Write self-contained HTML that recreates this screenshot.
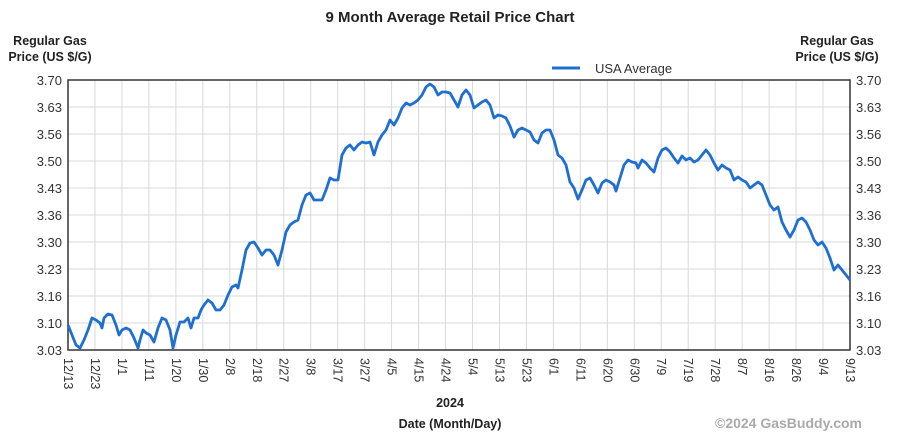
<!DOCTYPE html>
<html><head><meta charset="utf-8"><style>
body{margin:0;background:#fff;}
svg{display:block;font-family:"Liberation Sans",Arial,sans-serif;}
</style></head><body>
<svg width="900" height="437" xmlns="http://www.w3.org/2000/svg">
<text x="450" y="22" text-anchor="middle" font-size="15" font-weight="bold" fill="#222">9 Month Average Retail Price Chart</text>
<text x="50" y="45" text-anchor="middle" font-size="12.5" font-weight="bold" fill="#222">Regular Gas</text>
<text x="50" y="61" text-anchor="middle" font-size="12.5" font-weight="bold" fill="#222">Price (US $/G)</text>
<text x="837" y="45" text-anchor="middle" font-size="12.5" font-weight="bold" fill="#222">Regular Gas</text>
<text x="837" y="61" text-anchor="middle" font-size="12.5" font-weight="bold" fill="#222">Price (US $/G)</text>
<line x1="552" y1="68" x2="580" y2="68" stroke="#1f6fd1" stroke-width="3"/>
<text x="595" y="73" font-size="13" fill="#333">USA Average</text>
<g id="grid" stroke="#d9d9d9" stroke-width="1"></g>
<g id="ylab" font-size="13" fill="#333"></g>
<g id="xlab" font-size="12.5" fill="#333"></g>
<rect x="68" y="80" width="782" height="270" fill="none" stroke="#333" stroke-width="1.5"/>
<polyline id="ln" fill="none" stroke="#1f6fd1" stroke-width="2.8" stroke-linejoin="round" points="68,325 72,335 76,345 80,348 84,340 88,330 92,318 96,320 100,323 102,328 104,318 108,314 112,315 116,325 119,335 122,330 126,328 130,330 134,338 138,348 140,340 143,330 146,333 150,335 154,342 158,328 162,318 166,320 170,330 173,348 176,335 180,322 184,322 188,318 191,328 194,318 198,318 201,310 204,305 208,300 212,303 216,310 220,310 224,305 228,295 232,287 236,285 238,288 242,270 246,250 250,243 254,242 258,248 262,255 266,250 270,250 274,255 278,265 282,250 286,232 290,225 294,222 298,220 302,205 306,195 310,193 314,200 318,200 322,200 326,190 330,178 334,180 338,180 342,155 346,148 350,145 354,150 358,145 362,142 366,143 370,142 374,155 378,142 382,135 386,130 390,120 394,125 398,118 402,108 406,103 410,105 414,103 418,100 422,95 426,87 430,84 434,87 438,95 442,92 446,92 450,93 454,100 458,107 462,95 466,90 470,95 474,108 478,105 482,102 486,100 490,105 494,118 498,115 502,116 506,118 510,126 514,137 518,130 522,128 526,130 530,132 534,140 538,143 542,133 546,130 550,130 554,140 558,155 562,158 566,165 570,182 574,188 578,199 582,190 586,180 590,178 594,185 598,193 602,183 606,180 610,182 614,185 616,191 620,178 624,165 628,160 632,162 636,163 638,168 642,160 646,163 650,168 654,172 658,158 662,150 666,148 670,152 674,158 678,163 682,156 686,160 690,158 694,162 698,160 702,155 706,150 710,155 714,163 718,170 722,165 726,168 730,170 734,180 738,177 742,180 746,182 750,188 754,185 758,182 762,185 766,195 770,205 774,210 778,207 782,222 786,230 790,237 794,230 798,220 802,218 806,222 810,230 814,240 818,245 822,242 826,248 830,258 834,270 838,265 842,270 846,275 850,280"/>
<text x="450" y="407" text-anchor="middle" font-size="12.5" font-weight="bold" fill="#222">2024</text>
<text x="450" y="428" text-anchor="middle" font-size="12.5" font-weight="bold" fill="#222">Date (Month/Day)</text>
<text x="862" y="428" text-anchor="end" font-size="14" font-weight="bold" fill="#aaa">©2024 GasBuddy.com</text>
</svg>
<script>
const ns="http://www.w3.org/2000/svg";
const g=document.getElementById('grid'),yl=document.getElementById('ylab'),xl=document.getElementById('xlab');
const yv=["3.70","3.63","3.56","3.50","3.43","3.36","3.30","3.23","3.16","3.10","3.03"];
yv.forEach((v,i)=>{const y=80+i*27;
const l=document.createElementNS(ns,'line');l.setAttribute('x1',68);l.setAttribute('x2',850);l.setAttribute('y1',y);l.setAttribute('y2',y);g.appendChild(l);
const t=document.createElementNS(ns,'text');t.setAttribute('x',62);t.setAttribute('y',y+5);t.setAttribute('text-anchor','end');t.textContent=v;yl.appendChild(t);
const t2=document.createElementNS(ns,'text');t2.setAttribute('x',856);t2.setAttribute('y',y+5);t2.textContent=v;yl.appendChild(t2);});
const xv="12/13 12/23 1/1 1/11 1/20 1/30 2/8 2/18 2/27 3/8 3/17 3/27 4/5 4/15 4/24 5/4 5/13 5/23 6/1 6/11 6/20 6/30 7/9 7/19 7/28 8/7 8/16 8/26 9/4 9/13".split(' ');
xv.forEach((v,i)=>{const x=68+i*782/29;
const l=document.createElementNS(ns,'line');l.setAttribute('x1',x);l.setAttribute('x2',x);l.setAttribute('y1',80);l.setAttribute('y2',350);g.appendChild(l);
const t=document.createElementNS(ns,'text');t.setAttribute('transform',`translate(${x-4},358) rotate(90)`);t.textContent=v;xl.appendChild(t);});
</script>
</body></html>
